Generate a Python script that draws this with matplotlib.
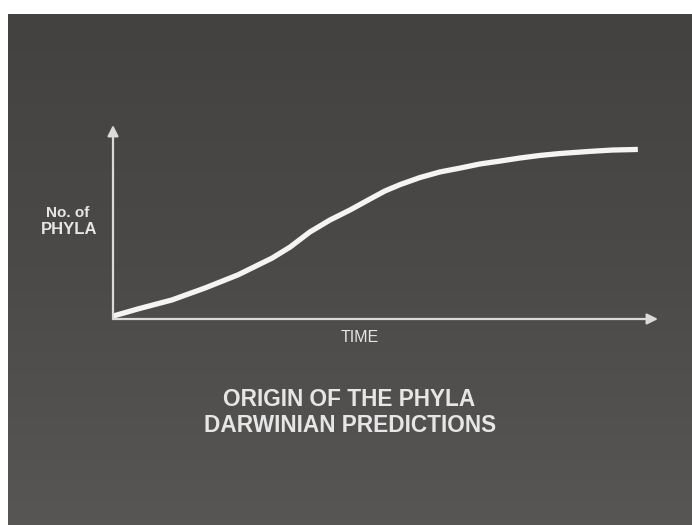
import numpy as np
import matplotlib
matplotlib.use("Agg")
import matplotlib.pyplot as plt

# curve (time and phyla on a 0-100 scale, origin at axes corner)
time = [0, 4.6, 10.8, 16.9, 22.9, 29.2, 32.5, 36.1, 39.8, 43.5, 47.2, 49.9,
        52.7, 56.3, 60.0, 63.7, 67.3, 71.0, 74.7, 78.3, 82.0, 87.5, 91.7, 96.3]
phyla = [1.5, 5.2, 9.8, 16.0, 22.7, 31.4, 37.1, 44.8, 51.0, 56.2, 61.9, 66.0,
         69.3, 72.9, 75.8, 77.8, 79.9, 81.4, 83.0, 84.3, 85.3, 86.4, 87.1, 87.4]

y_label = ["No. of", "PHYLA"]
x_label = "TIME"
title_lines = ["ORIGIN OF THE PHYLA", "DARWINIAN PREDICTIONS"]

W, H = 692, 525
fig = plt.figure(figsize=(W / 100, H / 100), dpi=100)
fig.patch.set_facecolor("white")

# background slide, in pixel coords
bg = fig.add_axes([0, 0, 1, 1])
bg.set_xlim(0, W)
bg.set_ylim(H, 0)
bg.axis("off")
grad = np.linspace(0, 1, 100).reshape(-1, 1)
slide_cmap = matplotlib.colors.LinearSegmentedColormap.from_list(
    "slide", ["#434241", "#4b4a49", "#575655"])
bg.imshow(grad, extent=(8, W, H, 14), cmap=slide_cmap, aspect="auto", zorder=0)

font = "Liberation Sans"
txt_col = "#e6e6e6"
bg.text(68, 213, y_label[0], ha="center", va="center", fontsize=11, fontweight="bold",
        color=txt_col, family=font)
bg.text(69, 229, y_label[1], ha="center", va="center", fontsize=12, fontweight="bold",
        color=txt_col, family=font)
bg.text(360, 337, x_label, ha="center", va="center", fontsize=11.5,
        color=txt_col, family=font)
bg.text(349, 400, title_lines[0], ha="center", va="center", fontsize=16.3,
        fontweight="bold", color=txt_col, family=font)
bg.text(350, 425, title_lines[1], ha="center", va="center", fontsize=16.3,
        fontweight="bold", color=txt_col, family=font)

# chart axes
ax = fig.add_axes([113 / W, (H - 319) / H, 545 / W, 194 / H])
ax.set_xlim(0, 100)
ax.set_ylim(0, 100)
ax.axis("off")
ax.patch.set_alpha(0)

axis_col = "#dadada"
arrow = dict(arrowstyle="-|>", color=axis_col, lw=1.6, mutation_scale=16,
             shrinkA=0, shrinkB=0)
ax.annotate("", xy=(100, 0), xytext=(0, 0), arrowprops=arrow, annotation_clip=False)
ax.annotate("", xy=(0, 100), xytext=(0, 0), arrowprops=arrow, annotation_clip=False)

ax.plot(time, phyla, color="#f4f4f4", lw=3.8, solid_capstyle="butt",
        solid_joinstyle="round", clip_on=False)

fig.savefig("out.png", dpi=100, facecolor=fig.get_facecolor())
